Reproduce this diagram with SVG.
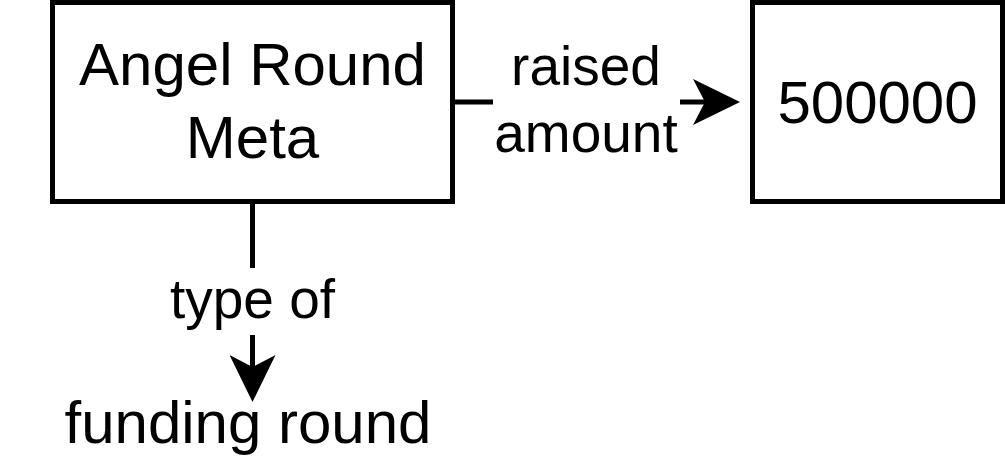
<svg xmlns="http://www.w3.org/2000/svg" width="1005" height="465" viewBox="0 0 1005 465">
<style>
.box{fill:#fff;stroke:#000;stroke-width:5}
.t{font-family:"Liberation Sans",Arial,sans-serif;fill:#000;text-anchor:middle}
.n{font-size:60px}
.l{font-size:55px}
.c{fill:none;stroke:#000;stroke-width:5}
</style>
<defs>
<marker id="ah" viewBox="0 0 47 46" refX="12" refY="23" markerWidth="47" markerHeight="46" markerUnits="userSpaceOnUse" orient="auto">
<path d="M0,0 L47,23 L0,46 L12,23 Z" fill="#000"/>
</marker>
</defs>
<rect width="1005" height="465" fill="#fff"/>
<g id="connectors">
<line class="c" x1="455" y1="102" x2="493" y2="102"/>
<line class="c" x1="680" y1="102" x2="705" y2="102" marker-end="url(#ah)"/>
<text class="t l" x="586" y="85">raised</text>
<text class="t l" x="586" y="152">amount</text>
<line class="c" x1="252.5" y1="204" x2="252.5" y2="268"/>
<line class="c" x1="252.5" y1="335" x2="252.5" y2="367" marker-end="url(#ah)"/>
<text class="t l" x="252.5" y="318">type of</text>
</g>
<g id="angel">
<rect class="box" x="52.5" y="2.5" width="400" height="199"/>
<text class="t n" x="252.5" y="85">Angel Round</text>
<text class="t n" x="252.5" y="158">Meta</text>
</g>
<g id="amount">
<rect class="box" x="752.5" y="2.5" width="250" height="199"/>
<text class="t n" x="877.5" y="123">500000</text>
</g>
<g id="funding">
<text class="t n" x="248" y="443">funding round</text>
</g>
</svg>
